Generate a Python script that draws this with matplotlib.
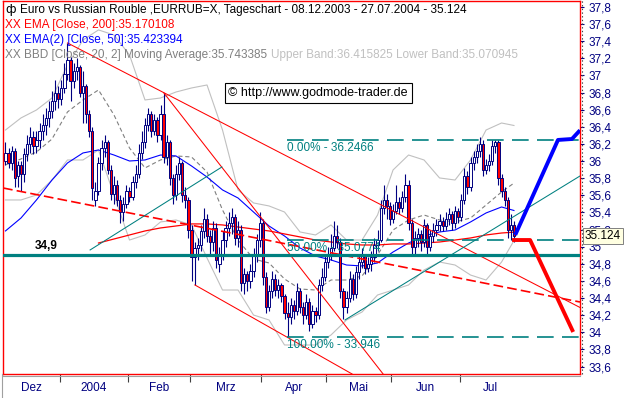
import matplotlib
matplotlib.use("Agg")
import numpy as np
import matplotlib.pyplot as plt
import matplotlib.transforms as mtransforms
from matplotlib.lines import Line2D

plt.rcParams['font.family'] = ['Liberation Sans', 'DejaVu Sans']
plt.rcParams['lines.scale_dashes'] = False

NAVY = "#000080"
TEAL = "#008080"

# daily candles, 08.12.2003 - 27.07.2004 (index = trading day)
opens = [36.00, 36.10, 35.98, 36.12, 35.82, 35.95, 35.85, 36.08, 36.20, 36.28,
         36.18, 36.25, 36.35, 36.42, 36.50, 36.58, 36.70, 36.80, 36.72, 36.85,
         37.02, 37.18, 36.93, 37.05, 37.10, 36.80, 36.88, 36.55, 36.35, 35.55,
         35.65, 35.98, 36.15, 36.22, 35.90, 35.62, 35.72, 35.55, 35.40, 35.50,
         35.65, 35.58, 35.75, 35.85, 36.10, 36.22, 36.42, 36.55, 36.35, 36.48,
         36.30, 36.55, 36.05, 36.22, 35.80, 35.60, 35.85, 35.98, 35.60, 35.55,
         35.20, 34.88, 34.98, 35.02, 35.18, 35.32, 35.12, 35.05, 35.22, 34.80,
         34.92, 35.08, 35.22, 35.28, 35.35, 35.10, 35.20, 34.58, 34.68, 34.60,
         34.72, 34.90, 35.08, 35.28, 34.65, 34.30, 34.48, 34.62, 34.50, 34.55,
         34.42, 34.22, 34.18, 34.32, 34.25, 34.48, 34.30, 34.20, 34.35, 34.10,
         34.25, 34.20, 34.55, 34.65, 34.82, 34.90, 34.98, 35.12, 35.05, 34.48,
         34.30, 34.40, 34.62, 34.45, 34.70, 34.82, 34.90, 34.75, 34.80, 34.88,
         35.02, 35.08, 35.45, 35.55, 35.48, 35.32, 35.42, 35.52, 35.45, 35.58,
         35.72, 35.28, 35.00, 35.10, 35.15, 35.05, 35.25, 35.00, 35.12, 35.20,
         35.25, 35.30, 35.24, 35.32, 35.38, 35.28, 35.42, 35.35, 35.55, 35.82,
         35.70, 35.98, 36.05, 36.12, 36.20, 35.90, 35.95, 36.00, 36.18, 36.22,
         35.80, 35.65, 35.55, 35.20, 35.25]
highs = [36.22, 36.15, 36.18, 36.15, 36.00, 36.00, 36.15, 36.30, 36.40, 36.35,
         36.35, 36.45, 36.55, 36.62, 36.70, 36.82, 36.95, 36.88, 36.95, 37.15,
         37.38, 37.22, 37.15, 37.20, 37.12, 37.05, 36.90, 36.60, 36.40, 35.75,
         36.05, 36.25, 36.30, 36.25, 35.95, 35.82, 35.78, 35.60, 35.58, 35.72,
         35.70, 35.82, 35.95, 36.20, 36.35, 36.50, 36.62, 36.58, 36.55, 36.52,
         36.65, 36.80, 36.30, 36.25, 35.85, 35.95, 36.05, 36.00, 35.70, 35.58,
         35.25, 35.05, 35.10, 35.25, 35.45, 35.38, 35.20, 35.30, 35.28, 35.00,
         35.18, 35.30, 35.40, 35.45, 35.38, 35.30, 35.25, 34.75, 34.72, 34.80,
         34.98, 35.15, 35.40, 35.32, 34.70, 34.55, 34.72, 34.68, 34.62, 34.58,
         34.45, 34.35, 34.40, 34.38, 34.58, 34.52, 34.35, 34.45, 34.40, 34.32,
         34.30, 34.62, 34.75, 34.92, 35.00, 35.15, 35.30, 35.25, 35.10, 34.52,
         34.48, 34.72, 34.68, 34.78, 34.92, 34.98, 34.92, 34.88, 34.95, 35.10,
         35.20, 35.55, 35.72, 35.62, 35.52, 35.50, 35.72, 35.58, 35.65, 35.85,
         35.78, 35.32, 35.18, 35.22, 35.20, 35.32, 35.28, 35.20, 35.28, 35.32,
         35.38, 35.35, 35.40, 35.45, 35.42, 35.48, 35.45, 35.62, 35.92, 35.88,
         36.05, 36.12, 36.20, 36.28, 36.25, 36.02, 36.08, 36.25, 36.25, 36.25,
         35.85, 35.70, 35.58, 35.38, 35.30]
lows = [35.95, 35.92, 35.90, 35.70, 35.70, 35.65, 35.75, 36.00, 36.10, 36.08,
        36.10, 36.15, 36.25, 36.30, 36.40, 36.50, 36.60, 36.62, 36.65, 36.80,
        36.95, 36.70, 36.85, 36.95, 36.75, 36.45, 36.45, 36.28, 35.55, 35.48,
        35.60, 35.90, 36.05, 35.85, 35.55, 35.50, 35.48, 35.28, 35.30, 35.45,
        35.52, 35.55, 35.68, 35.80, 36.02, 36.15, 36.35, 36.28, 36.30, 36.22,
        36.25, 35.98, 35.95, 35.72, 35.50, 35.55, 35.78, 35.52, 35.45, 35.10,
        34.60, 34.55, 34.85, 34.95, 35.10, 35.05, 34.90, 34.95, 34.75, 34.70,
        34.85, 35.00, 35.12, 35.15, 35.02, 35.00, 34.48, 34.45, 34.48, 34.52,
        34.65, 34.82, 35.00, 34.55, 34.22, 34.25, 34.40, 34.42, 34.40, 34.35,
        34.15, 33.95, 34.10, 34.15, 34.20, 34.22, 34.10, 34.15, 34.02, 34.05,
        34.12, 34.15, 34.48, 34.60, 34.75, 34.85, 34.95, 34.98, 34.40, 34.15,
        34.22, 34.35, 34.38, 34.40, 34.62, 34.75, 34.68, 34.70, 34.72, 34.82,
        34.95, 35.05, 35.38, 35.32, 35.25, 35.28, 35.38, 35.38, 35.40, 35.52,
        35.20, 34.90, 34.92, 35.00, 34.95, 35.00, 34.92, 34.95, 35.05, 35.12,
        35.18, 35.18, 35.20, 35.25, 35.20, 35.22, 35.28, 35.30, 35.50, 35.62,
        35.65, 35.90, 35.98, 36.05, 35.82, 35.85, 35.88, 35.95, 36.10, 35.72,
        35.58, 35.48, 35.10, 35.08, 35.05]
closes = [36.10, 35.98, 36.12, 35.80, 35.95, 35.85, 36.08, 36.20, 36.28, 36.18,
          36.25, 36.35, 36.42, 36.50, 36.58, 36.70, 36.80, 36.72, 36.85, 37.02,
          37.18, 36.93, 37.05, 37.10, 36.80, 36.88, 36.55, 36.35, 35.68, 35.65,
          35.98, 36.15, 36.22, 35.90, 35.62, 35.72, 35.55, 35.40, 35.50, 35.65,
          35.58, 35.75, 35.85, 36.10, 36.22, 36.42, 36.55, 36.35, 36.48, 36.30,
          36.55, 36.05, 36.22, 35.80, 35.60, 35.85, 35.98, 35.60, 35.55, 35.20,
          34.88, 34.98, 35.02, 35.18, 35.32, 35.12, 35.05, 35.22, 34.85, 34.92,
          35.08, 35.22, 35.28, 35.35, 35.10, 35.20, 34.58, 34.68, 34.60, 34.72,
          34.90, 35.08, 35.28, 34.65, 34.30, 34.48, 34.62, 34.50, 34.55, 34.42,
          34.22, 34.18, 34.32, 34.25, 34.48, 34.30, 34.20, 34.35, 34.10, 34.25,
          34.20, 34.55, 34.65, 34.82, 34.90, 34.98, 35.12, 35.05, 34.48, 34.30,
          34.40, 34.62, 34.45, 34.70, 34.82, 34.90, 34.75, 34.80, 34.88, 35.02,
          35.08, 35.45, 35.55, 35.48, 35.32, 35.42, 35.52, 35.45, 35.58, 35.72,
          35.28, 35.00, 35.10, 35.15, 35.05, 35.25, 35.00, 35.12, 35.20, 35.25,
          35.30, 35.24, 35.32, 35.38, 35.28, 35.42, 35.35, 35.55, 35.82, 35.70,
          35.98, 36.05, 36.12, 36.20, 35.90, 35.95, 36.00, 36.18, 36.22, 35.80,
          35.65, 35.55, 35.20, 35.25, 35.124]

# month boundaries (trading-day index) and names
month_bounds = [-0.5, 17.5, 39.5, 59.5, 82.5, 103.5, 124.5, 146.5, 166]
month_names = ["Dez", "2004", "Feb", "Mrz", "Apr", "Mai", "Jun", "Jul"]

# indicators, read every 5 days
ind_idx = list(range(0, 161, 5)) + [164]
ema50 = [35.184, 35.335, 35.546, 35.779, 35.978, 36.095, 36.130, 36.071, 36.001, 36.013,
         36.071, 36.060, 35.943, 35.814, 35.663, 35.569, 35.405, 35.242, 35.125, 34.985,
         34.891, 34.845, 34.786, 34.775, 34.810, 34.938, 35.043, 35.125, 35.172, 35.195,
         35.289, 35.394, 35.464, 35.423]
bb_upper = [36.363, 36.504, 36.597, 36.737, 37.123, 37.415, 37.532, 37.473, 37.240, 36.714,
            36.737, 36.807, 36.854, 36.889, 36.363, 35.663, 35.511, 35.476, 35.405, 35.172,
            35.137, 35.254, 35.078, 35.078, 35.370, 35.896, 36.071, 36.013, 35.803, 35.779,
            36.013, 36.363, 36.445, 36.416]
bb_mid = [35.955, 36.025, 36.106, 36.258, 36.574, 36.714, 36.831, 36.539, 36.153, 35.920,
          36.013, 36.060, 36.048, 35.873, 35.429, 35.078, 34.856, 34.810, 34.623, 34.506,
          34.494, 34.611, 34.611, 34.658, 34.903, 35.195, 35.312, 35.370, 35.312, 35.289,
          35.335, 35.487, 35.639, 35.743]
bb_lower = [35.546, 35.546, 35.604, 35.779, 36.013, 36.013, 36.130, 35.604, 35.078, 35.137,
            35.289, 35.312, 35.254, 34.868, 34.494, 34.494, 34.202, 34.144, 33.852, 33.852,
            33.852, 33.969, 34.144, 34.237, 34.436, 34.494, 34.553, 34.728, 34.821, 34.786,
            34.669, 34.611, 34.821, 35.071]
ema200_idx = list(range(30, 161, 5)) + [164]
ema200 = [35.043, 35.090, 35.137, 35.184, 35.219, 35.242, 35.266, 35.266, 35.254, 35.230,
          35.207, 35.184, 35.149, 35.114, 35.078, 35.055, 35.032, 35.020, 35.020, 35.032,
          35.032, 35.043, 35.055, 35.078, 35.102, 35.137, 35.160, 35.170]

# drawn lines (index, price)
res_x, res_y = [20, 185.3], [37.38, 34.29]
steep_x, steep_y = [51, 121.8], [36.80, 33.513]
chan_x, chan_y = [61.1, 111.8], [34.553, 33.513]
dash_x, dash_y = [-0.8, 185.3], [35.686, 34.354]
up1_x, up1_y = [27.3, 69.8], [34.962, 35.931]
up2_x, up2_y = [109.5, 185.3], [34.144, 35.826]
fib_start = 90.8
fib_levels = [36.2466, 35.0774, 33.946]
fib_labels = ["0.00% - 36.2466", "50.00% - 35.0774", "100.00% - 33.946"]
support = 34.9
blue_x, blue_y = [164.4, 178.2, 182.7, 185.3], [35.137, 36.247, 36.258, 36.36]
red_x, red_y = [163.4, 169.2, 183.1], [35.078, 35.078, 34.004]
last_price = 35.124

W, H = 636, 398
fig = plt.figure(figsize=(W / 100, H / 100), dpi=100)
ax = fig.add_axes([3 / W, 24 / H, 577 / W, 373 / H])
ax.set_xlim(-0.8, 185.3)
ax.set_ylim(33.513, 37.870)
for s in ax.spines.values():
    s.set_color("red")
    s.set_linewidth(1.0)

# Bollinger + EMAs
ax.plot(ind_idx, bb_upper, color="#c0c0c0", lw=0.8, zorder=1)
ax.plot(ind_idx, bb_lower, color="#c0c0c0", lw=0.8, zorder=1)
ax.plot(ind_idx, bb_mid, color="#808080", lw=0.8, dashes=(3, 2), zorder=1)
ax.plot(ind_idx, ema50, color="#0000ff", lw=0.8, zorder=1.5)
ax.plot(ema200_idx, ema200, color="red", lw=0.9, zorder=1.5)

# candles
idx = np.arange(len(closes))
o = np.array(opens)
c = np.array(closes)
ax.vlines(idx, lows, highs, color=NAVY, lw=0.8, zorder=2)
bottoms = np.minimum(o, c)
heights = np.maximum(np.abs(c - o), 0.012)
colors = ["red" if cc < oo else "white" for oo, cc in zip(o, c)]
ax.bar(idx, heights, bottom=bottoms, width=0.72, color=colors,
       edgecolor=NAVY, linewidth=0.7, zorder=2.5)

# trendlines
ax.plot(res_x, res_y, color="red", lw=0.75, zorder=3)
ax.plot(steep_x, steep_y, color="red", lw=0.75, zorder=3)
ax.plot(chan_x, chan_y, color="red", lw=0.75, zorder=3)
ax.plot(dash_x, dash_y, color="red", lw=1.2, dashes=(7, 3), zorder=3)
ax.plot(up1_x, up1_y, color=TEAL, lw=0.75, zorder=3)
ax.plot(up2_x, up2_y, color=TEAL, lw=0.75, zorder=3)
ax.axhline(support, color=TEAL, lw=2.3, zorder=3)

# Fibonacci
for lev, lab in zip(fib_levels, fib_labels):
    ax.plot([fib_start, 185.3], [lev, lev], color=TEAL, lw=1.2, dashes=(12, 6), zorder=3)
    ax.annotate(lab, (fib_start, lev), xytext=(0, -1.5), textcoords="offset points",
                ha="left", va="top", color=TEAL, fontsize=8.5, zorder=4)

ax.annotate("34,9", (9.5, support), xytext=(0, 2.5), textcoords="offset points",
            ha="left", va="bottom", fontsize=8.5, fontweight="bold", color="black")

# projection
ax.plot(blue_x, blue_y, color="#0000ff", lw=2.8, zorder=4, solid_capstyle="butt")
ax.plot(red_x, red_y, color="red", lw=2.8, zorder=4, solid_capstyle="butt")

# axes ticks
yt = np.round(np.arange(33.6, 37.81, 0.2), 1)
ax.set_yticks(yt)
ax.set_yticklabels([("%g" % v).replace(".", ",") for v in yt])
ax.tick_params(axis="y", left=False, labelleft=False, right=True, labelright=True,
               length=3, color=NAVY, labelcolor=NAVY, labelsize=8.5, pad=3)
ax.set_xticks(month_bounds[1:-1])
ax.set_xticklabels([])
ax.tick_params(axis="x", length=6, color="#404040", direction="out")

tr = mtransforms.blended_transform_factory(ax.transData, fig.transFigure)
for a, b, name in zip(month_bounds[:-1], month_bounds[1:], month_names):
    fig.text((a + b) / 2, 1 - 388 / H, name, transform=tr, ha="center", va="center",
             fontsize=8.5, color=NAVY)

fig.add_artist(Line2D([3 / W, 580 / W], [1 - 376 / H] * 2, color="#a0a0a0", lw=0.8))
fig.add_artist(Line2D([2 / W, 2 / W], [0, 24 / H], color="#a0a0a0", lw=0.8))
fig.add_artist(Line2D([582 / W, 582 / W], [1 - 374 / H, 1], color="#404040", lw=0.8,
                      linestyle=":"))

# last price box
trp = mtransforms.blended_transform_factory(fig.transFigure, ax.transData)
fig.text(585 / W, last_price, "35.124", transform=trp, ha="left", va="center",
         fontsize=8.5, color="black", zorder=10,
         bbox=dict(boxstyle="square,pad=0.2", fc="#ffffe1", ec="#808080", lw=0.7))

# watermark
fig.text(318 / W, 1 - 93 / H, "\u00a9 http://www.godmode-trader.de", ha="center", va="center",
         fontsize=9, color="black", zorder=10,
         bbox=dict(boxstyle="square,pad=0.3", fc="white", ec="black", lw=0.8))

# header legend
fig.text(5 / W, 1 - 10 / H, "ф", ha="left", va="center", fontsize=9, color="black",
         family="DejaVu Sans")
fig.text(20 / W, 1 - 10 / H,
         "Euro vs Russian Rouble ,EURRUB=X, Tageschart - 08.12.2003 - 27.07.2004 - 35.124",
         ha="left", va="center", fontsize=8.5, color="black")
fig.text(5 / W, 1 - 25 / H, "XX EMA [Close, 200]:35.170108", ha="left", va="center",
         fontsize=8.5, color="red")
fig.text(5 / W, 1 - 40 / H, "XX EMA(2) [Close, 50]:35.423394", ha="left", va="center",
         fontsize=8.5, color="#0000ff")
t4 = fig.text(5 / W, 1 - 55 / H, "XX BBD [Close, 20, 2] Moving Average:35.743385",
              ha="left", va="center", fontsize=8.5, color="#808080")
fig.canvas.draw()
bb = t4.get_window_extent()
fig.text(bb.x1 / W + 4 / W, 1 - 55 / H, "Upper Band:36.415825 Lower Band:35.070945",
         ha="left", va="center", fontsize=8.5, color="#c0c0c0")

fig.savefig("out.png", dpi=100, facecolor="white")
